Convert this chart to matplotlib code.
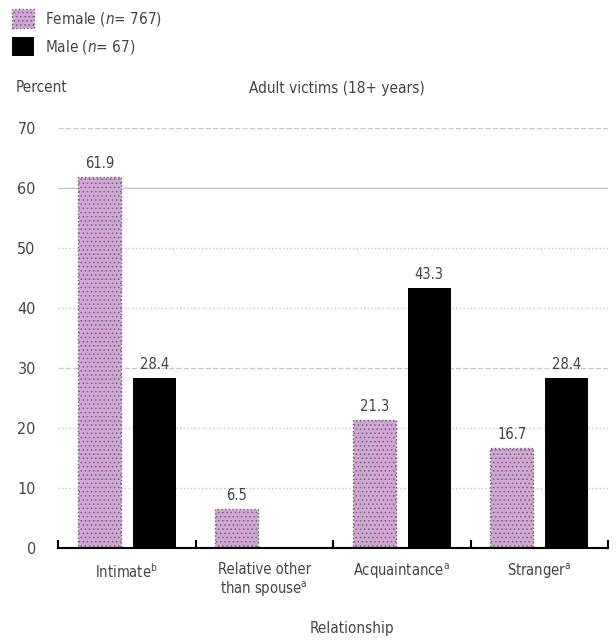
import matplotlib
matplotlib.use("Agg")
import matplotlib.pyplot as plt
from matplotlib.patches import Rectangle
import numpy as np

plt.rcParams['font.family'] = ['DejaVu Sans']
plt.rcParams['font.stretch'] = 'condensed'
plt.rcParams['mathtext.fontset'] = 'custom'
plt.rcParams['mathtext.rm'] = 'DejaVu Sans:stretch=condensed'
plt.rcParams['mathtext.it'] = 'DejaVu Sans:italic:stretch=condensed'
plt.rcParams['hatch.linewidth'] = 0.6

categories = [r"Intimate$^{\mathrm{b}}$",
              "Relative other\n" + r"than spouse$^{\mathrm{a}}$",
              r"Acquaintance$^{\mathrm{a}}$",
              r"Stranger$^{\mathrm{a}}$"]
female = [61.9, 6.5, 21.3, 16.7]
male = [28.4, np.nan, 43.3, 28.4]
yticks = [0, 10, 20, 30, 40, 50, 60, 70]
grid_styles = {10: ':', 20: ':', 30: '--', 40: ':', 50: ':', 60: '-', 70: '--'}

female_color = '#d4a6d8'
text_color = '#444444'

fig = plt.figure(figsize=(6.16, 6.43), dpi=100)
ax = fig.add_axes([58 / 616, 1 - 548 / 643, 550 / 616, 420 / 643])

x = np.arange(len(categories))
w = 0.315
off = 0.2

for yv, ls in grid_styles.items():
    ax.axhline(yv, color='#c8c8c8', lw=1.0, ls=ls, zorder=0)

ax.bar(x - off, female, w, facecolor=female_color, edgecolor='#666666',
       hatch='....', linewidth=1.0, linestyle=':', zorder=2)
ax.bar(x + off, np.nan_to_num(male), w, color='black', zorder=2)

for xi, v in zip(x, female):
    ax.text(xi - off, v + 1.0, f"{v:.1f}", ha='center', va='bottom',
            fontsize=10.5, color=text_color)
for xi, v in zip(x, male):
    if not np.isnan(v):
        ax.text(xi + off, v + 1.0, f"{v:.1f}", ha='center', va='bottom',
                fontsize=10.5, color=text_color)

ax.set_xlim(-0.5, len(categories) - 0.5)
ax.set_ylim(0, 70)
ax.set_yticks(yticks)
ax.set_yticklabels([str(t) for t in yticks], fontsize=11.5, color=text_color)
ax.tick_params(axis='y', length=0, pad=16)

ax.set_xticks(x)
ax.set_xticklabels(categories, fontsize=10.5, color=text_color)
ax.tick_params(axis='x', length=0, pad=10)
for xb in np.arange(-0.5, len(categories), 1.0):
    ax.plot([xb, xb], [0, 1.1], color='black', lw=1.5, zorder=3, clip_on=False)

for s in ['top', 'right', 'left']:
    ax.spines[s].set_visible(False)
ax.spines['bottom'].set_linewidth(1.5)
ax.spines['bottom'].set_color('black')

fig.text(352 / 616, 1 - 628 / 643, "Relationship", ha='center', va='center',
         fontsize=11, color=text_color)
fig.text(16 / 616, 1 - 88 / 643, "Percent", ha='left', va='center',
         fontsize=11, color=text_color)
fig.text(337 / 616, 1 - 88 / 643, "Adult victims (18+ years)", ha='center',
         va='center', fontsize=11, color=text_color)

# legend entries
fig.patches.append(Rectangle((12 / 616, 1 - 28 / 643), 22 / 616, 19 / 643,
                             transform=fig.transFigure, facecolor=female_color,
                             edgecolor='#666666', hatch='....', lw=1.0, ls=':'))
fig.patches.append(Rectangle((12 / 616, 1 - 56 / 643), 22 / 616, 19 / 643,
                             transform=fig.transFigure, facecolor='black'))
fig.text(45 / 616, 1 - 19 / 643, r"Female ($n$= 767)", ha='left', va='center',
         fontsize=11, color=text_color)
fig.text(45 / 616, 1 - 47 / 643, r"Male ($n$= 67)", ha='left', va='center',
         fontsize=11, color=text_color)

fig.savefig("out.png", dpi=100)
